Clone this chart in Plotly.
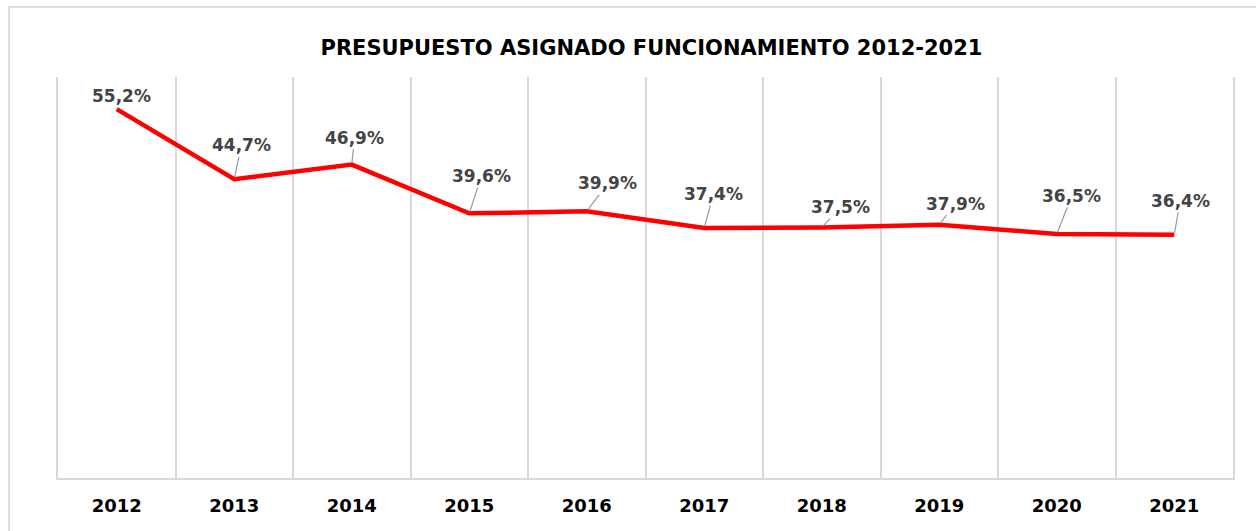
import plotly.graph_objects as go

# datos
anios = ['2012', '2013', '2014', '2015', '2016', '2017', '2018', '2019', '2020', '2021']
porcentajes = [55.2, 44.7, 46.9, 39.6, 39.9, 37.4, 37.5, 37.9, 36.5, 36.4]
etiquetas = ['55,2%', '44,7%', '46,9%', '39,6%', '39,9%', '37,4%', '37,5%', '37,9%', '36,5%', '36,4%']

# desplazamiento de cada etiqueta (px) respecto al punto
desp_x = [5, 7, 3, 12, 21, 9, 19, 16, 15, 6]
desp_y = [-13, -34, -27, -37, -28, -34, -20, -21, -38, -34]

fig = go.Figure()

fig.add_trace(go.Scatter(
    x=anios,
    y=porcentajes,
    mode='lines',
    line=dict(color='#ff0000', width=4.5),
    hoverinfo='skip',
    showlegend=False
))

# en eje de categorías la posición de la anotación va por índice
for i, (val, txt, dx, dy) in enumerate(zip(porcentajes, etiquetas, desp_x, desp_y)):
    fig.add_annotation(
        x=i, y=val, text=txt,
        showarrow=True, arrowhead=0, arrowwidth=1.2, arrowcolor='#999999',
        ax=dx, ay=dy, standoff=2,
        font=dict(family='DejaVu Sans', size=17, color='#444444', weight='bold')
    )

# marco del gráfico
fig.add_shape(
    type='rect', xref='paper', yref='paper',
    x0=-0.0417, x1=1.2, y0=-0.3, y1=1.1746,
    line=dict(color='#dcdcdc', width=2),
    layer='below'
)

fig.update_layout(
    width=1256,
    height=531,
    paper_bgcolor='white',
    plot_bgcolor='white',
    margin=dict(l=58, r=23, t=77, b=53),
    title=dict(
        text='PRESUPUESTO ASIGNADO FUNCIONAMIENTO 2012-2021',
        x=0.5187, xanchor='center', y=0.9096, yanchor='middle', yref='container',
        font=dict(family='DejaVu Sans', size=21, color='#000000', weight='bold')
    ),
    xaxis=dict(
        type='category',
        range=[-0.5, 9.5],
        tickson='boundaries',
        showgrid=True,
        gridcolor='#d9d9d9',
        gridwidth=1.5,
        showline=True,
        linecolor='#d9d9d9',
        linewidth=2,
        ticks='',
        ticklabelstandoff=10,
        tickfont=dict(family='DejaVu Sans', size=18, color='#000000', weight='bold'),
        fixedrange=True
    ),
    yaxis=dict(
        range=[0, 60],
        showgrid=False,
        zeroline=False,
        showticklabels=False,
        showline=True,
        mirror=True,
        linecolor='#d9d9d9',
        linewidth=1.5,
        ticks='',
        fixedrange=True
    )
)

# quitar el margen del body para que el gráfico ocupe la ventana desde (0,0)
fig.write_html("out.html", config={'displayModeBar': False},
               post_script="document.body.style.margin='0';")
